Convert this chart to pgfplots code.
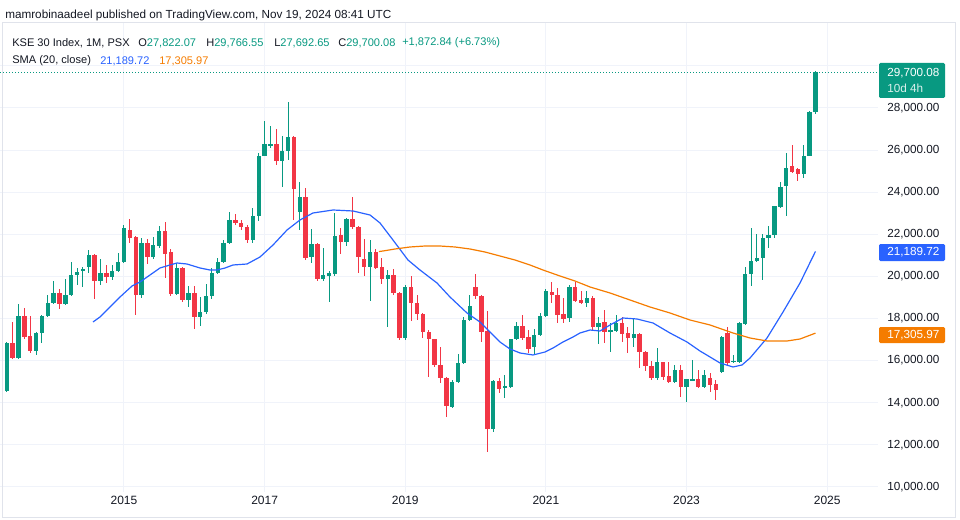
\documentclass[border=0pt]{standalone}
\usepackage{pgfplots}
\pgfplotsset{compat=1.18}
\usepackage{pgfplotstable}
\usepackage{fontspec}
\setmainfont{Liberation Sans}
\definecolor{cgreen}{HTML}{089981}
\definecolor{cred}{HTML}{F23645}
\definecolor{cblue}{HTML}{2962FF}
\definecolor{corange}{HTML}{F57C00}
\definecolor{ctext}{HTML}{131722}
\definecolor{cgrid}{HTML}{F0F3FA}
\definecolor{cframe}{HTML}{E0E3EB}

% monthly candles, m = months since Jan 2015
\pgfplotstableread{
m o h l c
-20 14558 16900 14500 16838
-19 16838 17835 16078 16125
-18 16125 18690 16078 18120
-17 18120 18500 17028 17123
-16 17170 18120 16363 16458
-15 16458 17360 16268 17313
-14 17313 18150 16838 18120
-13 18120 19118 18080 18738
-12 18738 19783 18700 19213
-11 19213 19403 18453 18690
-10 18690 19878 18650 19118
-9 19118 20685 19070 20068
-8 20068 20400 19593 20210
-7 20258 20448 19498 20353
-6 20448 21255 20163 21018
-5 21018 21060 18928 19783
-4 19783 20828 19593 20163
-3 20163 20543 19688 19973
-2 19973 20543 19830 20258
-1 20258 21113 20220 20685
0 20685 22443 20638 22300
1 22205 22728 21588 21825
2 21873 21900 18168 19118
3 19118 21825 18975 21588
4 21588 21778 20590 20923
5 20923 21873 20828 21493
6 21445 22400 21350 22158
7 22158 22585 19925 21065
8 21160 21303 19070 19165
9 19165 20638 19120 20400
10 20400 20450 18785 18880
11 18880 19545 18548 19213
12 19213 19545 17503 18073
13 18073 19023 17645 18310
14 18310 19640 18200 19070
15 19070 20400 18950 20163
16 20163 20875 20100 20685
17 20685 21730 20638 21588
18 21588 23060 21540 22680
19 22680 22965 22443 22538
20 22538 22680 22205 22348
21 22348 22443 21588 21730
22 21730 23250 21588 22870
23 22870 25863 22633 25720
24 25720 27383 25720 26290
25 26242 27145 26100 26290
26 26290 27003 25293 25483
27 25483 26670 24248 25958
28 25958 28285 25530 26623
29 26623 26650 22680 24153
30 23060 24485 22205 23773
31 23773 24200 20780 20875
32 20923 22253 20638 21540
33 21540 21580 19783 19878
34 19878 21350 19783 20068
35 20020 20258 18785 20163
36 20115 23013 20020 21920
37 21968 22300 21065 21635
38 21635 22775 21445 22728
39 22728 23773 22253 22348
40 22348 22400 20163 20923
41 20828 21778 20020 20448
42 20448 21730 18833 21160
43 21160 21303 20350 20400
44 20448 20875 19640 19878
45 19878 20305 17598 20068
46 20068 20353 19118 19213
47 19213 19250 17000 17075
48 17075 19600 16980 19498
49 19498 20020 17883 18738
50 18738 19118 17930 18215
51 18215 18250 17075 17360
52 17360 17455 15223 17028
53 17028 17050 15698 15793
54 15793 16648 14938 15175
55 15175 15223 13323 13845
56 13798 15100 13750 14985
57 14985 16315 14938 15888
58 15888 18073 15850 17930
59 17930 19118 17883 18595
60 19498 20115 18928 19070
61 19070 19100 16885 17360
62 17408 18358 11660 12753
63 12753 15080 12610 15033
64 15033 15175 14463 14653
65 14700 15318 14225 14795
66 14748 17050 14700 17028
67 17028 17835 16980 17645
68 17645 18168 16980 17075
69 17123 17455 16363 16553
70 16648 17503 16268 17218
71 17218 18263 17170 18120
72 18120 19403 18073 19308
73 19260 19735 18738 19118
74 19118 19450 17788 18168
75 18215 18975 17788 17978
76 18025 19593 17835 19498
77 19498 19735 18785 18833
78 18880 19308 18690 18738
79 18738 19308 18548 18975
80 18975 19070 17455 17598
81 17598 18073 16790 17788
82 17835 18405 16838 17360
83 17360 17788 16410 17455
84 17408 18168 17360 17788
85 17788 18073 16885 17265
86 17313 17598 16363 17075
87 17075 18025 16648 17265
88 17265 17300 15650 16410
89 16410 16450 15508 15745
90 15745 15983 15080 15175
91 15175 16600 15080 15935
92 15935 15950 15080 15223
93 15270 15935 14950 14985
94 14985 15793 14938 15555
95 15555 15793 14273 14748
96 14748 15150 14035 15128
97 15080 16030 15033 15128
98 15128 15555 14700 14748
99 14748 15555 14700 15318
100 15175 15413 14510 14843
101 14890 15080 14130 14605
102 15460 17170 15413 17123
103 17313 17598 15745 15888
104 15935 16268 15888 15983
105 15935 17830 15900 17788
106 17740 20448 17693 20115
107 20115 22300 19545 20733
108 20733 22015 20700 20875
109 20875 22015 19830 21825
110 21825 22395 21350 21968
111 21968 23345 21825 23345
112 23298 24485 23250 24248
113 24295 25863 22870 25150
114 25245 26243 24913 24960
115 25103 25150 24533 24865
116 24865 26243 24675 25720
117 25720 27850 25700 27827.24
118 27822.07 29766.55 27692.65 29700.08
}\kse

\pgfplotsset{
  wick/.style={only marks, mark=none, mark size=0pt, mark options={draw=none, fill=none}, forget plot,
    error bars/.cd, y dir=both, y explicit, error mark=none,
    error bar style={line width=0.75pt, solid, #1}},
  body/.style={only marks, mark=none, mark size=0pt, mark options={draw=none, fill=none}, forget plot,
    error bars/.cd, y dir=both, y explicit, error mark=none,
    error bar style={line width=3.3pt, solid, #1}},
}

\begin{document}
\begin{tikzpicture}
\path[use as bounding box] (0,-20.25pt) rectangle (720pt,369pt);
\begin{axis}[
  at={(0,0)}, anchor=south west, scale only axis,
  width=658.5pt, height=351.75pt,
  xmin=-21.16, xmax=128.67, ymin=9760, ymax=32037.5,
  axis line style={draw=none},
  major tick length=0pt,
  xtick={0,24,48,72,96,120},
  xticklabels={2015,2017,2019,2021,2023,2025},
  ytick={10000,12000,14000,16000,18000,20000,22000,24000,26000,28000,30000},
  yticklabels={{10,000.00},{12,000.00},{14,000.00},{16,000.00},{18,000.00},{20,000.00},{22,000.00},{24,000.00},{26,000.00},{28,000.00},{}},
  yticklabel pos=right,
  scaled y ticks=false,
  grid=major,
  major grid style={draw=cgrid, line width=0.75pt},
  xticklabel style={font=\fontsize{9}{10}\selectfont, text=ctext, anchor=center, yshift=-6pt},
  yticklabel style={font=\fontsize{8.8}{10}\selectfont, text=ctext, anchor=west, inner sep=0pt, xshift=6.75pt},
  clip=false,
]
% green candles
\addplot[restrict expr to domain={\thisrow{c}-\thisrow{o}}{0:100000}, wick=cgreen]
  table[x=m, y expr={(\thisrow{h}+\thisrow{l})/2}, y error expr={(\thisrow{h}-\thisrow{l})/2}] {\kse};
\addplot[restrict expr to domain={\thisrow{c}-\thisrow{o}}{0:100000}, body=cgreen]
  table[x=m, y expr={(\thisrow{o}+\thisrow{c})/2}, y error expr={max(abs(\thisrow{c}-\thisrow{o})/2,25)}] {\kse};
% red candles
\addplot[restrict expr to domain={\thisrow{o}-\thisrow{c}}{0.001:100000}, wick=cred]
  table[x=m, y expr={(\thisrow{h}+\thisrow{l})/2}, y error expr={(\thisrow{h}-\thisrow{l})/2}] {\kse};
\addplot[restrict expr to domain={\thisrow{o}-\thisrow{c}}{0.001:100000}, body=cred]
  table[x=m, y expr={(\thisrow{o}+\thisrow{c})/2}, y error expr={max(abs(\thisrow{c}-\thisrow{o})/2,25)}] {\kse};
% SMA lines
\addplot[cblue, line width=0.9pt, mark=none] coordinates {
(-5.29,17835) (-4.10,18073) (-2.39,18548) (-0.68,19023) (1.37,19545) (2.73,19735) (4.44,20068) (6.14,20400) (7.85,20543) (9.04,20638) (10.75,20590) (12.97,20400) (14.68,20305) (15.87,20305) (17.24,20400) (18.60,20543) (20.99,20590) (23.21,20923) (25.43,21493) (27.82,22205) (30.03,22680) (32.25,23013) (35.67,23155) (39.08,23108) (41.98,22918) (43.69,22538) (45.90,21730) (48.46,20780) (50.51,20305) (53.41,19688) (55.63,19023) (58.53,18263) (60.75,17835) (62.46,17360) (64.16,16885) (65.87,16553) (67.58,16363) (69.80,16268) (71.84,16410) (73.21,16600) (74.91,16885) (76.62,17123) (77.82,17313) (79.52,17455) (81.23,17408) (82.94,17693) (85.15,18025) (87.54,17978) (90.27,17788) (93.17,17313) (96.08,16885) (98.29,16458) (100.0,16173) (101.71,15888) (103.92,15698) (105.46,15793) (106.83,16125) (109.73,17075) (112.46,18310) (115.36,19688) (118,21189.72)
};
\addplot[corange, line width=0.9pt, mark=none] coordinates {
(43.5,21180) (44.2,21208) (46.25,21303) (48.8,21398) (51.37,21445) (53.92,21445) (56.48,21398) (59.04,21303) (61.6,21160) (64.16,20970) (66.72,20780) (69.28,20543) (71.5,20305) (74.4,20020) (76.96,19783) (79.52,19498) (82.94,19213) (86.35,18880) (89.76,18548) (93.17,18263) (96.59,17930) (100.0,17693) (103.92,17313) (106.83,17075) (109.73,16933) (113.14,16933) (115.36,17028) (118,17305.97)
};
\draw[cgreen, line width=0.75pt, dash pattern=on 0.75pt off 1.5pt] (axis cs:-21.16,29700.08) -- (axis cs:128.67,29700.08);
\end{axis}
% cover overflow of bottom price label
\fill[white] (658.5pt,-18pt) rectangle (715.5pt,0pt);
% frame
\draw[cframe, line width=0.75pt] (1.5pt,351.75pt) rectangle (716.25pt,-18.75pt);
% last-value boxes
\fill[cgreen, rounded corners=1pt] (659.25pt,295.5pt) rectangle (708.75pt,321.75pt);
\node[anchor=west, inner sep=0pt, text=white, font=\fontsize{8.8}{10}\selectfont] at (665.25pt,314.25pt) {29,700.08};
\node[anchor=west, inner sep=0pt, text=white!85!cgreen, font=\fontsize{8.8}{10}\selectfont] at (665.25pt,303pt) {10d 4h};
\fill[cblue, rounded corners=1pt] (659.25pt,173.25pt) rectangle (708.75pt,186pt);
\node[anchor=west, inner sep=0pt, text=white, font=\fontsize{8.8}{10}\selectfont] at (665.25pt,179.6pt) {21,189.72};
\fill[corange, rounded corners=1pt] (659.25pt,111.75pt) rectangle (708.75pt,123.75pt);
\node[anchor=west, inner sep=0pt, text=white, font=\fontsize{8.8}{10}\selectfont] at (665.25pt,117.75pt) {17,305.97};
% header texts
\node[anchor=west, inner sep=0pt, text=ctext, font=\fontsize{8.8}{10}\selectfont] at (3.75pt,357.75pt) {mamrobinaadeel published on TradingView.com, Nov 19, 2024 08:41 UTC};
\node[anchor=west, inner sep=0pt, text=ctext, font=\fontsize{8.3}{10}\selectfont] at (9pt,336.75pt) {KSE 30 Index, 1M, PSX};
\node[anchor=west, inner sep=0pt, text=ctext, font=\fontsize{8.3}{10}\selectfont] at (103.5pt,336.75pt) {O\textcolor{cgreen}{27,822.07}};
\node[anchor=west, inner sep=0pt, text=ctext, font=\fontsize{8.3}{10}\selectfont] at (154.5pt,336.75pt) {H\textcolor{cgreen}{29,766.55}};
\node[anchor=west, inner sep=0pt, text=ctext, font=\fontsize{8.3}{10}\selectfont] at (205.5pt,336.75pt) {L\textcolor{cgreen}{27,692.65}};
\node[anchor=west, inner sep=0pt, text=ctext, font=\fontsize{8.3}{10}\selectfont] at (253.5pt,336.75pt) {C\textcolor{cgreen}{29,700.08}};
\node[anchor=west, inner sep=0pt, text=cgreen, font=\fontsize{8.3}{10}\selectfont] at (301.5pt,336.75pt) {+1,872.84 (+6.73\%)};
\node[anchor=west, inner sep=0pt, text=ctext, font=\fontsize{8.3}{10}\selectfont] at (9pt,323.25pt) {SMA (20, close)};
\node[anchor=west, inner sep=0pt, text=cblue, font=\fontsize{8.3}{10}\selectfont] at (75pt,323.25pt) {21,189.72};
\node[anchor=west, inner sep=0pt, text=corange, font=\fontsize{8.3}{10}\selectfont] at (119.25pt,323.25pt) {17,305.97};
\end{tikzpicture}
\end{document}
